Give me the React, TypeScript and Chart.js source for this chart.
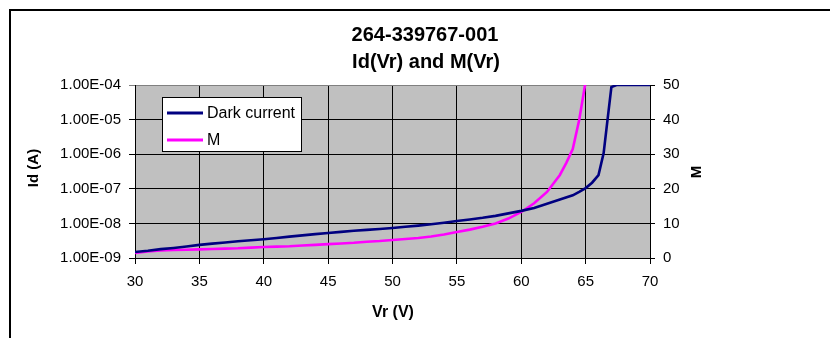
import React, { useEffect, useRef } from "react";
import { Chart, registerables } from "chart.js";

Chart.register(...registerables);

const titleLines = ["264-339767-001", "Id(Vr) and M(Vr)"];
const xTitle = "Vr (V)";
const yTitle = "Id (A)";
const y1Title = "M";

const darkVoltage = [30, 31, 32, 33, 34, 35, 36, 37, 38, 39, 40, 41, 42, 43, 44, 45, 46, 47, 48, 49, 50, 51, 52, 53, 54, 55, 56, 57, 58, 59, 60, 61, 62, 63, 64, 64.5, 65, 65.5, 66, 66.4, 66.7, 67, 67.4, 68, 69, 70];
const darkCurrent = [1.49e-9, 1.62e-9, 1.8e-9, 1.95e-9, 2.15e-9, 2.4e-9, 2.6e-9, 2.8e-9, 3.05e-9, 3.25e-9, 3.5e-9, 3.8e-9, 4.15e-9, 4.5e-9, 4.9e-9, 5.3e-9, 5.7e-9, 6.1e-9, 6.5e-9, 6.9e-9, 7.4e-9, 8.0e-9, 8.6e-9, 9.4e-9, 1.05e-8, 1.17e-8, 1.3e-8, 1.45e-8, 1.65e-8, 1.95e-8, 2.3e-8, 2.8e-8, 3.7e-8, 4.9e-8, 6.5e-8, 8.2e-8, 1.05e-7, 1.5e-7, 2.5e-7, 1.08e-6, 9.8e-6, 8.7e-5, 1.0e-4, 1.0e-4, 1.0e-4, 1.0e-4];

const mVoltage = [30, 31, 32, 33, 34, 35, 36, 37, 38, 39, 40, 41, 42, 43, 44, 45, 46, 47, 48, 49, 50, 51, 52, 53, 54, 55, 56, 57, 58, 59, 60, 61, 62, 63, 63.5, 64, 64.5, 65];
const mValues = [1.45, 1.9, 2.2, 2.3, 2.4, 2.5, 2.6, 2.7, 2.8, 3.0, 3.2, 3.3, 3.4, 3.6, 3.8, 4.0, 4.2, 4.4, 4.7, 4.9, 5.2, 5.5, 5.8, 6.2, 6.8, 7.5, 8.2, 9.0, 10.0, 11.4, 13.3, 15.8, 19.1, 24.0, 27.5, 31.5, 39.9, 51];

const leftTickValues = [1e-9, 1e-8, 1e-7, 1e-6, 1e-5, 1e-4];
const leftTickLabels = ["1.00E-09", "1.00E-08", "1.00E-07", "1.00E-06", "1.00E-05", "1.00E-04"];

const FONT = "'Liberation Sans', Arial, sans-serif";

export default function App() {
  const ref = useRef<HTMLCanvasElement | null>(null);

  useEffect(() => {
    if (!ref.current) return;
    document.body.style.margin = "0";

    const decor = {
      id: "decor",
      beforeDraw(chart: any) {
        const { ctx, chartArea: a } = chart;
        ctx.save();
        ctx.fillStyle = "#ffffff";
        ctx.fillRect(0, 0, chart.width, chart.height);
        ctx.fillStyle = "#c0c0c0";
        ctx.fillRect(a.left, a.top, a.right - a.left, a.bottom - a.top);
        ctx.strokeStyle = "#000";
        ctx.lineWidth = 2;
        ctx.beginPath();
        ctx.moveTo(10, chart.height + 2);
        ctx.lineTo(10, 10);
        ctx.lineTo(chart.width + 2, 10);
        ctx.stroke();
        ctx.restore();
      },
      afterDraw(chart: any) {
        const { ctx } = chart;
        ctx.save();
        ctx.fillStyle = "#000";
        ctx.textAlign = "center";
        ctx.textBaseline = "middle";
        ctx.font = `bold 20px ${FONT}`;
        ctx.fillText(titleLines[0], 425, 35);
        ctx.fillText(titleLines[1], 426, 62);
        ctx.font = `bold 16px ${FONT}`;
        ctx.fillText(xTitle, 393, 313);
        ctx.save();
        ctx.translate(34, 168);
        ctx.rotate(-Math.PI / 2);
        ctx.font = `bold 15px ${FONT}`;
        ctx.fillText(yTitle, 0, 0);
        ctx.restore();
        ctx.save();
        ctx.translate(697, 172);
        ctx.rotate(-Math.PI / 2);
        ctx.font = `bold 15px ${FONT}`;
        ctx.fillText(y1Title, 0, 0);
        ctx.restore();

        // legend
        const lx = 162, ly = 97, lw = 139, lh = 54;
        ctx.fillStyle = "#fff";
        ctx.fillRect(lx, ly, lw, lh);
        ctx.strokeStyle = "#000";
        ctx.lineWidth = 1;
        ctx.strokeRect(lx + 0.5, ly + 0.5, lw, lh);
        const items = chart.data.datasets.map((d: any) => ({ label: d.label, color: d.borderColor }));
        const rows = [113, 140];
        items.forEach((it: any, i: number) => {
          ctx.strokeStyle = it.color;
          ctx.lineWidth = 3;
          ctx.beginPath();
          ctx.moveTo(167, rows[i]);
          ctx.lineTo(203, rows[i]);
          ctx.stroke();
          ctx.fillStyle = "#000";
          ctx.textAlign = "left";
          ctx.textBaseline = "middle";
          ctx.font = `16px ${FONT}`;
          ctx.fillText(it.label, 207, rows[i] + 1);
        });
        ctx.restore();
      },
    };

    const chart = new Chart(ref.current, {
      type: "line",
      data: {
        datasets: [
          {
            label: "Dark current",
            data: darkVoltage.map((v, i) => ({ x: v, y: darkCurrent[i] })),
            borderColor: "#000080",
            backgroundColor: "#000080",
            borderWidth: 2.6,
            pointRadius: 0,
            tension: 0,
            yAxisID: "y",
          },
          {
            label: "M",
            data: mVoltage.map((v, i) => ({ x: v, y: mValues[i] })),
            borderColor: "#ff00ff",
            backgroundColor: "#ff00ff",
            borderWidth: 2.6,
            pointRadius: 0,
            tension: 0,
            yAxisID: "y1",
          },
        ],
      },
      options: {
        responsive: false,
        animation: false,
        devicePixelRatio: 1,
        layout: { padding: { top: 85, left: 0, right: 0, bottom: 0 } },
        plugins: { legend: { display: false }, title: { display: false }, tooltip: { enabled: false } },
        scales: {
          x: {
            type: "linear",
            min: 30,
            max: 70,
            ticks: { stepSize: 5, color: "#000", font: { family: FONT, size: 15 }, padding: 9, maxRotation: 0 },
            grid: { color: "#000", lineWidth: 1, tickLength: 6 },
            border: { color: "#000", width: 1 },
            afterFit: (s: any) => { s.height = 80; },
          },
          y: {
            type: "logarithmic",
            position: "left",
            min: 1e-9,
            max: 1e-4,
            afterBuildTicks: (s: any) => { s.ticks = leftTickValues.map((v) => ({ value: v })); },
            ticks: {
              color: "#000",
              font: { family: FONT, size: 15 },
              padding: 8,
              callback: (v: any) => {
                const i = leftTickValues.findIndex((t) => Math.abs(t - v) / t < 1e-6);
                return i >= 0 ? leftTickLabels[i] : "";
              },
            },
            grid: {
              color: (c: any) => (c.tick && Math.abs(c.tick.value - 1e-4) < 1e-10 ? "#808080" : "#000"),
              lineWidth: 1,
              tickLength: 6,
            },
            border: { color: "#000", width: 1 },
            afterFit: (s: any) => { s.width = 135; },
          },
          y1: {
            type: "linear",
            position: "right",
            min: 0,
            max: 50,
            ticks: { stepSize: 10, color: "#000", font: { family: FONT, size: 15 }, padding: 8 },
            grid: { drawOnChartArea: false, color: "#000", tickLength: 5 },
            border: { color: "#000", width: 1 },
            afterFit: (s: any) => { s.width = 180; },
          },
        },
      },
      plugins: [decor],
    });
    return () => chart.destroy();
  }, []);

  return (
    <div style={{ position: "absolute", left: 0, top: 0, width: 830, height: 338 }}>
      <canvas ref={ref} width={830} height={338} style={{ display: "block", width: 830, height: 338 }} />
    </div>
  );
}
